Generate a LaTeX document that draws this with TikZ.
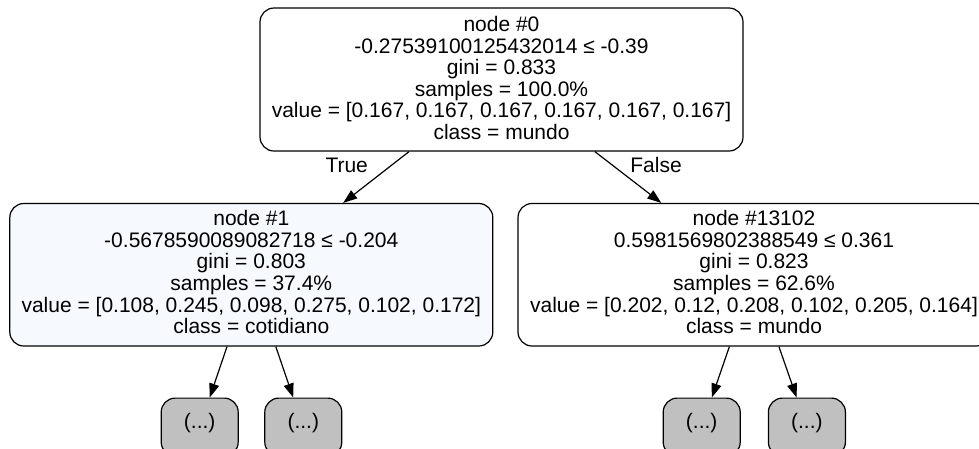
\documentclass[tikz,border=0pt]{standalone}
\usepackage{fontspec}
\setmainfont{Liberation Sans}
\usetikzlibrary{arrows.meta}
\definecolor{lightblue}{HTML}{F6FAFE}
\definecolor{leafgray}{HTML}{C0C0C0}
\begin{document}
\begin{tikzpicture}[x=1pt,y=-1pt,
  tbox/.style={draw, line width=1.2pt, rounded corners=14pt, inner sep=0pt},
  leaf/.style={tbox, fill=leafgray, minimum width=77pt, minimum height=58pt, anchor=north},
  lbl/.style={font=\fontsize{21}{21}\selectfont, inner sep=0pt, anchor=base},
  leaftxt/.style={font=\fontsize{21}{21}\selectfont, inner sep=0pt, anchor=center},
  edge/.style={line width=1.2pt, -{Triangle[length=14pt,width=10pt]}}
]
\useasboundingbox (0,0) rectangle (979,448);
\clip (0,0) rectangle (979,448);

% boxes
\node[tbox, minimum width=483pt, minimum height=143pt] (n0) at (501.5,79.5) {};
\node[tbox, fill=lightblue, minimum width=483pt, minimum height=142.5pt] (n1) at (251.3,274.75) {};
\node[tbox, minimum width=472pt, minimum height=142.5pt] (n2) at (754,274.75) {};

% texts
\foreach \t [count=\i] in {node \#0, {-0.27539100125432014 ≤ -0.39}, gini = 0.833, samples = 100.0\%, {value = [0.167, 0.167, 0.167, 0.167, 0.167, 0.167]}, class = mundo}
  \node[lbl] (n0t\i) at (501.5, {31.5+21.5*(\i-1)}) {\t};
\foreach \t [count=\i] in {node \#1, {-0.5678590089082718 ≤ -0.204}, gini = 0.803, samples = 37.4\%, {value = [0.108, 0.245, 0.098, 0.275, 0.102, 0.172]}, class = cotidiano}
  \node[lbl] (n1t\i) at (251.3, {225.7+21.6*(\i-1)}) {\t};
\foreach \t [count=\i] in {node \#13102, {0.5981569802388549 ≤ 0.361}, gini = 0.823, samples = 62.6\%, {value = [0.202, 0.12, 0.208, 0.102, 0.205, 0.164]}, class = mundo}
  \node[lbl] (n2t\i) at (754, {225.7+21.6*(\i-1)}) {\t};

% leaves
\node[leaf] (l1) at (199.7,397.5) {};
\node[leaf] (l2) at (303.3,397.5) {};
\node[leaf] (l3) at (701.7,397.5) {};
\node[leaf] (l4) at (806.9,397.5) {};
\node[leaftxt] (l1t) at (199.7,423.3) {(...)};
\node[leaftxt] (l2t) at (303.3,423.3) {(...)};
\node[leaftxt] (l3t) at (701.7,423.3) {(...)};
\node[leaftxt] (l4t) at (806.9,423.3) {(...)};

% edges
\draw[edge] (n0) -- (n1);
\draw[edge] (n0) -- (n2);
\draw[edge] (n1) -- (l1);
\draw[edge] (n1) -- (l2);
\draw[edge] (n2) -- (l3);
\draw[edge] (n2) -- (l4);

% edge labels
\node[lbl] (tT) at (346.7,172) {True};
\node[lbl] (tF) at (656,172) {False};
\end{tikzpicture}
\end{document}
